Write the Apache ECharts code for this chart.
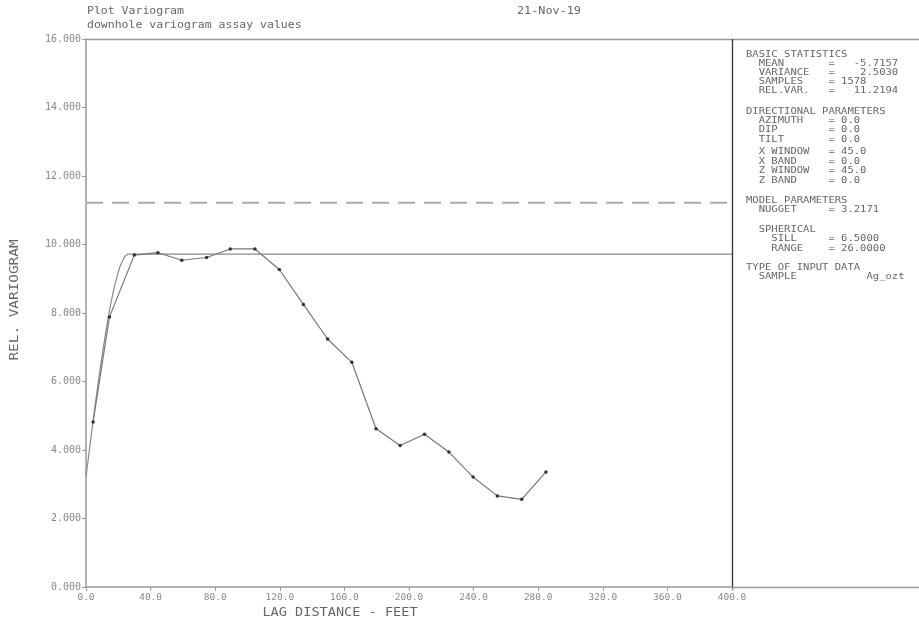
<!DOCTYPE html>
<html>
<head>
<meta charset="utf-8">
<script src="https://cdn.jsdelivr.net/npm/echarts@6/dist/echarts.min.js"></script>
<style>
html,body{margin:0;padding:0;background:#fff;}
#chart{width:919px;height:623px;}
</style>
</head>
<body>
<div id="chart"></div>
<script>
// ---- data ----
const lagDistances = [4.4, 14.5, 29.9, 44.5, 59.3, 74.7, 89.3, 104.6, 119.7, 134.6, 149.6, 164.6, 179.6, 194.5, 209.6, 224.7, 239.7, 254.7, 269.8, 284.8];
const relVariogram = [4.82, 7.88, 9.69, 9.76, 9.54, 9.62, 9.87, 9.87, 9.27, 8.25, 7.24, 6.56, 4.62, 4.13, 4.46, 3.94, 3.21, 2.66, 2.56, 3.36];
const modelLags   = [0, 3, 6, 9, 12, 15, 18, 21, 24, 26, 400];
const modelValues = [3.22, 4.34, 5.43, 6.45, 7.38, 8.2, 8.86, 9.36, 9.65, 9.72, 9.72];
const relVarianceLevel = 11.2194;
const xTicks = { min: 0, max: 400, interval: 40 };
const yTicks = { min: 0, max: 16, interval: 2 };
const titleLines = ['Plot Variogram', 'downhole variogram assay values'];
const dateText = '21-Nov-19';
const xAxisName = 'LAG DISTANCE - FEET';
const yAxisName = 'REL. VARIOGRAM';
const panelLines = [
  ['BASIC STATISTICS', 55],
  ['  MEAN       =   -5.7157', 64],
  ['  VARIANCE   =    2.5030', 73],
  ['  SAMPLES    = 1578', 82],
  ['  REL.VAR.   =   11.2194', 91],
  ['DIRECTIONAL PARAMETERS', 112],
  ['  AZIMUTH    = 0.0', 121],
  ['  DIP        = 0.0', 130],
  ['  TILT       = 0.0', 140],
  ['  X WINDOW   = 45.0', 152],
  ['  X BAND     = 0.0', 161.5],
  ['  Z WINDOW   = 45.0', 171],
  ['  Z BAND     = 0.0', 180.5],
  ['MODEL PARAMETERS', 201],
  ['  NUGGET     = 3.2171', 210],
  ['  SPHERICAL', 229.5],
  ['    SILL     = 6.5000', 239],
  ['    RANGE    = 26.0000', 248.5],
  ['TYPE OF INPUT DATA', 268],
  ['  SAMPLE           Ag_ozt', 277]
];

const MONO = '"DejaVu Sans Mono", monospace';
const chart = echarts.init(document.getElementById('chart'), null, {renderer: 'canvas'});

const expData = lagDistances.map((x, i) => [x, relVariogram[i]]);
const modelData = modelLags.map((x, i) => [x, modelValues[i]]);

const graphics = [];
titleLines.forEach((t, i) => {
  graphics.push({type: 'text', x: 87, y: 11.5 + i * 13.5, scaleX: 1.15,
    style: {text: t, font: '10px ' + MONO, fill: '#666', verticalAlign: 'middle'}});
});
graphics.push({type: 'text', x: 517, y: 11.5, scaleX: 1.18,
  style: {text: dateText, font: '10px ' + MONO, fill: '#666', verticalAlign: 'middle'}});
panelLines.forEach(([t, y]) => {
  graphics.push({type: 'text', x: 746, y: y, scaleX: 1.17,
    style: {text: t, font: '9px ' + MONO, fill: '#666', verticalAlign: 'middle', align: 'left'}});
});
// frame lines
graphics.push({type: 'line', shape: {x1: 86, y1: 39.5, x2: 919, y2: 39.5}, style: {stroke: '#999', lineWidth: 1.5}});
graphics.push({type: 'line', shape: {x1: 732, y1: 587.5, x2: 919, y2: 587.5}, style: {stroke: '#999', lineWidth: 1.5}});
graphics.push({type: 'line', shape: {x1: 732.5, y1: 39, x2: 732.5, y2: 590}, style: {stroke: '#333', lineWidth: 1.3}});
// axis names
graphics.push({type: 'text', x: 15, y: 300, rotation: Math.PI / 2, scaleX: 1.25,
  style: {text: yAxisName, font: '11.5px ' + MONO, fill: '#666', align: 'center', verticalAlign: 'middle'}});
graphics.push({type: 'text', x: 340, y: 613, scaleX: 1.18,
  style: {text: xAxisName, font: '11.5px ' + MONO, fill: '#666', align: 'center', verticalAlign: 'middle'}});

chart.setOption({
  animation: false,
  backgroundColor: '#fff',
  grid: {left: 86, right: 187, top: 39, bottom: 36, containLabel: false},
  xAxis: {
    type: 'value', min: xTicks.min, max: xTicks.max, interval: xTicks.interval,
    axisLine: {show: true, onZero: false, lineStyle: {color: '#999', width: 1.5}},
    axisTick: {show: true, inside: false, length: 4, lineStyle: {color: '#999'}},
    axisLabel: {color: '#888', fontFamily: MONO, fontSize: 9.5, margin: 6,
      formatter: v => v.toFixed(1)},
    splitLine: {show: false}
  },
  yAxis: {
    type: 'value', min: yTicks.min, max: yTicks.max, interval: yTicks.interval,
    axisLine: {show: true, onZero: false, lineStyle: {color: '#999', width: 1.5}},
    axisTick: {show: true, inside: false, length: 4, lineStyle: {color: '#999'}},
    axisLabel: {color: '#888', fontFamily: MONO, fontSize: 10, margin: 5,
      formatter: v => v.toFixed(3)},
    splitLine: {show: false}
  },
  graphic: graphics,
  series: [
    {
      type: 'line', data: [[xTicks.min, relVarianceLevel], [xTicks.max, relVarianceLevel]],
      showSymbol: false, silent: true,
      lineStyle: {color: '#aaa', width: 2, type: [17, 9]}
    },
    {
      type: 'line', data: modelData, showSymbol: false, silent: true,
      lineStyle: {color: '#888', width: 1.2}
    },
    {
      type: 'line', data: expData, symbol: 'circle', symbolSize: 3.5, silent: true,
      itemStyle: {color: '#333'},
      lineStyle: {color: '#777', width: 1.2}
    }
  ]
});
</script>
</body>
</html>
